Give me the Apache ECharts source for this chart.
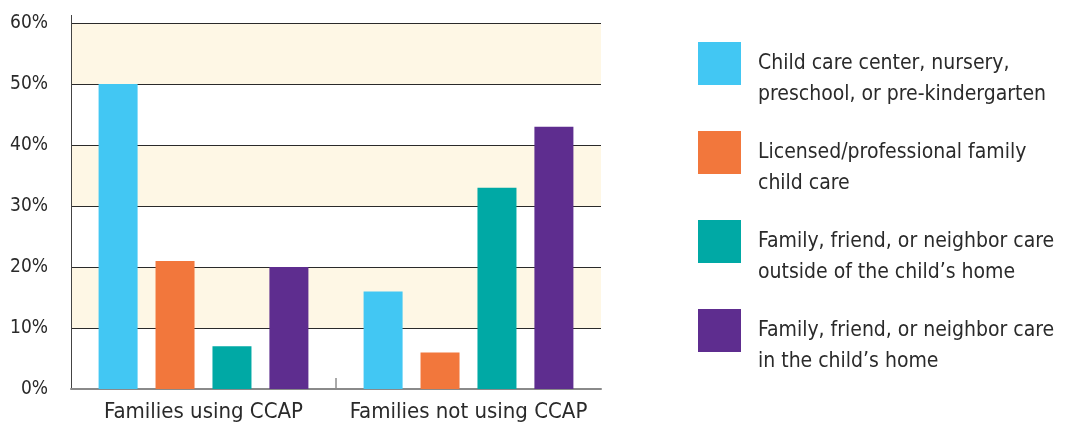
<!DOCTYPE html>
<html>
<head>
<meta charset="utf-8">
<script src="https://cdn.jsdelivr.net/npm/echarts@6/dist/echarts.min.js"></script>
<style>html,body{margin:0;padding:0;background:#fff}#c{width:1069px;height:431px}</style>
</head>
<body>
<div id="c"></div>
<script>
const categories = ['Families using CCAP', 'Families not using CCAP'];
const seriesNames = [
  'Child care center, nursery,\npreschool, or pre-kindergarten',
  'Licensed/professional family\nchild care',
  'Family, friend, or neighbor care\noutside of the child\u2019s home',
  'Family, friend, or neighbor care\nin the child\u2019s home'
];
const centerCare = [50, 16];
const licensedCare = [21, 6];
const fnnOutside = [7, 33];
const fnnInside = [20, 43];
const yTicks = [0, 10, 20, 30, 40, 50, 60];
const colors = ['#42C7F3', '#F2773C', '#00A9A5', '#5E2D8F'];

const FONT = "'Liberation Sans Narrow', 'Arial Narrow', 'DejaVu Sans Condensed', sans-serif";
const chart = echarts.init(document.getElementById('c'), null, {renderer: 'canvas'});
const values = [centerCare, licensedCare, fnnOutside, fnnInside];

chart.setOption({
  animation: false,
  backgroundColor: '#fff',
  color: colors,
  grid: {left: 71, top: 23, width: 530, bottom: 42, containLabel: false},
  legend: {
    orient: 'vertical',
    left: 693,
    top: 12,
    itemWidth: 43,
    itemHeight: 43,
    itemGap: -4,
    icon: 'rect',
    data: seriesNames,
    formatter: name => '\n' + name,
    textStyle: {fontFamily: FONT, fontSize: 21, color: '#2a2a2a', lineHeight: 31, padding: [0, 0, 0, 12]}
  },
  xAxis: {
    type: 'category',
    data: categories,
    axisLine: {lineStyle: {color: '#8a8a8a', width: 2}},
    axisTick: {show: false},
    axisLabel: {interval: 0, fontFamily: FONT, fontSize: 22, color: '#2a2a2a', margin: 12}
  },
  yAxis: {
    type: 'value',
    min: yTicks[0],
    max: yTicks[yTicks.length - 1],
    interval: 10,
    axisLine: {show: true, lineStyle: {color: '#444', width: 1}},
    axisTick: {show: false},
    axisLabel: {fontFamily: FONT, fontSize: 19, color: '#2a2a2a', margin: 23, formatter: v => v + '%'},
    splitLine: {show: true, lineStyle: {color: '#2a2a2a', width: 1.2}},
    splitArea: {show: true, areaStyle: {color: ['#ffffff', '#FEF7E5']}}
  },
  series: seriesNames.map((n, i) => ({
    name: n,
    type: 'bar',
    data: values[i],
    barWidth: 39,
    barGap: '46%',
    itemStyle: {color: colors[i]}
  }))
});

const p0 = chart.convertToPixel({xAxisIndex: 0}, 0);
const p1 = chart.convertToPixel({xAxisIndex: 0}, 1);
const yBase = chart.convertToPixel({yAxisIndex: 0}, 0);
const yTop = chart.convertToPixel({yAxisIndex: 0}, yTicks[yTicks.length - 1]);
const xLeft = 71;
const mid = (p0 + p1) / 2;
chart.setOption({
  graphic: [
    {type: 'line', shape: {x1: mid, y1: yBase - 11, x2: mid, y2: yBase}, style: {stroke: '#555', lineWidth: 1}},
    {type: 'line', shape: {x1: xLeft + 0.5, y1: yTop - 8, x2: xLeft + 0.5, y2: yTop}, style: {stroke: '#444', lineWidth: 1}}
  ]
});
</script>
</body>
</html>
